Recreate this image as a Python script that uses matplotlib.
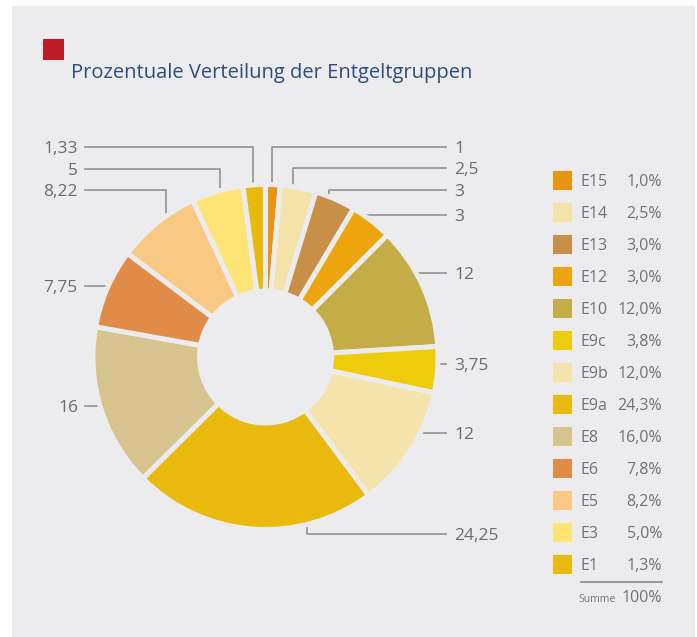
import matplotlib
matplotlib.use("Agg")
import matplotlib.pyplot as plt
from matplotlib.patches import Rectangle
from decimal import Decimal, ROUND_HALF_UP
import math

# ---------------- data ----------------
groups = ["E15", "E14", "E13", "E12", "E10", "E9c", "E9b", "E9a", "E8", "E6", "E5", "E3", "E1"]
values = [1, 2.5, 3, 3, 12, 3.75, 12, 24.25, 16, 7.75, 8.22, 5, 1.33]
# angular size of each slice as drawn in the picture (degrees)
slice_degrees = [4.9, 12.1, 13.7, 14.3, 41.5, 15.5, 41.3, 82.0, 54.8, 26.8, 28.2, 17.4, 7.5]
colors = ["#E99410", "#F4E3A9", "#C88F47", "#EDA50E", "#C4AC47", "#EECB0B", "#F4E3AB",
          "#E9B90E", "#D7C38D", "#E08C48", "#F9C883", "#FEE474", "#E9B90E"]
title = "Prozentuale Verteilung der Entgeltgruppen"
total_label = "100%"

# ---------------- layout (pixels, y from top) ----------------
W, H = 697, 637
BG = "#ECECEE"
CX, CY, R = 265.5, 357, 170
EDGE_PX = 5
label_layout = {
    "E15": ("r", 147, ("v", 272)),
    "E14": ("r", 168, ("v", 293)),
    "E13": ("r", 190, ("v", 329)),
    "E12": ("r", 215, ("v", 364)),
    "E10": ("r", 273, ("h",)),
    "E9c": ("r", 364, ("h",)),
    "E9b": ("r", 433, ("h",)),
    "E9a": ("r", 534, ("v", 307)),
    "E8":  ("l", 406, ("h",)),
    "E6":  ("l", 286, ("h",)),
    "E5":  ("l", 190, ("v", 166)),
    "E3":  ("l", 169, ("v", 220)),
    "E1":  ("l", 147, ("v", 253)),
}
RIGHT_LINE_END, RIGHT_TEXT_X = 447, 454
LEFT_LINE_START, LEFT_TEXT_X = 84, 78

def Y(y):
    return H - y

fig = plt.figure(figsize=(W / 100, H / 100), dpi=100)
fig.patch.set_facecolor("white")
ax = fig.add_axes([0, 0, 1, 1])
ax.set_axis_off()

# background panel
ax.add_patch(Rectangle((12, Y(637)), 695 - 12, 637 - 6, facecolor=BG, edgecolor="none", zorder=0))

# title marker and title
ax.add_patch(Rectangle((43, Y(60)), 21, 21, facecolor="#BE1A28", edgecolor="none", zorder=1))
ax.text(71, Y(78), title, fontsize=14.5, color="#2B4C7E", family="Open Sans",
        ha="left", va="baseline", zorder=2)

# donut
lw_pt = EDGE_PX * 72 / 100
ax.pie(slice_degrees, colors=colors, startangle=90, counterclock=False,
       radius=R + EDGE_PX / 2, center=(CX, Y(CY)), frame=True,
       wedgeprops=dict(width=106.5, edgecolor=BG, linewidth=lw_pt, zorder=3))

def fmt_val(v):
    return ("%g" % v).replace(".", ",")

def fmt_pct(v):
    d = Decimal(str(v)).quantize(Decimal("0.1"), rounding=ROUND_HALF_UP)
    return str(d).replace(".", ",") + "%"

LINE_C = "#8A8A8C"
TEXT_C = "#6B6B6D"
for g, v in zip(groups, values):
    side, ly, leader = label_layout[g]
    if leader[0] == "v":
        lx = leader[1]
        ey = CY + (1 if ly > CY else -1) * math.sqrt(R ** 2 - (lx - CX) ** 2)
        xs = [RIGHT_LINE_END, lx, lx] if side == "r" else [LEFT_LINE_START, lx, lx]
        ys = [ly, ly, ey]
    else:
        ex = CX + (1 if side == "r" else -1) * math.sqrt(R ** 2 - (ly - CY) ** 2)
        xs = [RIGHT_LINE_END, ex] if side == "r" else [LEFT_LINE_START, ex]
        ys = [ly, ly]
    ax.plot(xs, [Y(y) for y in ys], color=LINE_C, lw=1.1, zorder=2, solid_capstyle="butt")
    if side == "r":
        ax.text(RIGHT_TEXT_X, Y(ly), fmt_val(v), fontsize=12.5, color=TEXT_C,
                family="Open Sans", ha="left", va="center_baseline", zorder=4)
    else:
        ax.text(LEFT_TEXT_X, Y(ly), fmt_val(v), fontsize=12.5, color=TEXT_C,
                family="Open Sans", ha="right", va="center_baseline", zorder=4)

# legend
LEG_X, LEG_Y0, LEG_DY, SW = 553, 171, 32, 19
LEG_C = "#717173"
for i, (g, v, c) in enumerate(zip(groups, values, colors)):
    top = LEG_Y0 + i * LEG_DY
    ax.add_patch(Rectangle((LEG_X, Y(top + SW)), SW, SW, facecolor=c, edgecolor="none", zorder=3))
    ax.text(581, Y(top + SW / 2), g, fontsize=11.5, color=LEG_C, family="Open Sans",
            ha="left", va="center_baseline", zorder=4)
    ax.text(662, Y(top + SW / 2), fmt_pct(v), fontsize=11.5, color=LEG_C, family="Open Sans",
            ha="right", va="center_baseline", zorder=4)

ax.plot([581, 662], [Y(582), Y(582)], color="#8A8A8C", lw=1.2, zorder=3)
ax.text(578, Y(602), "Summe", fontsize=7.5, color=LEG_C, family="Open Sans",
        ha="left", va="baseline", zorder=4)
ax.text(662, Y(602), total_label, fontsize=11.5, color=LEG_C, family="Open Sans",
        ha="right", va="baseline", zorder=4)

ax.set_xlim(0, W)
ax.set_ylim(0, H)
ax.set_aspect("equal")
ax.set_axis_off()

fig.savefig("out.png", dpi=100, facecolor="white")
